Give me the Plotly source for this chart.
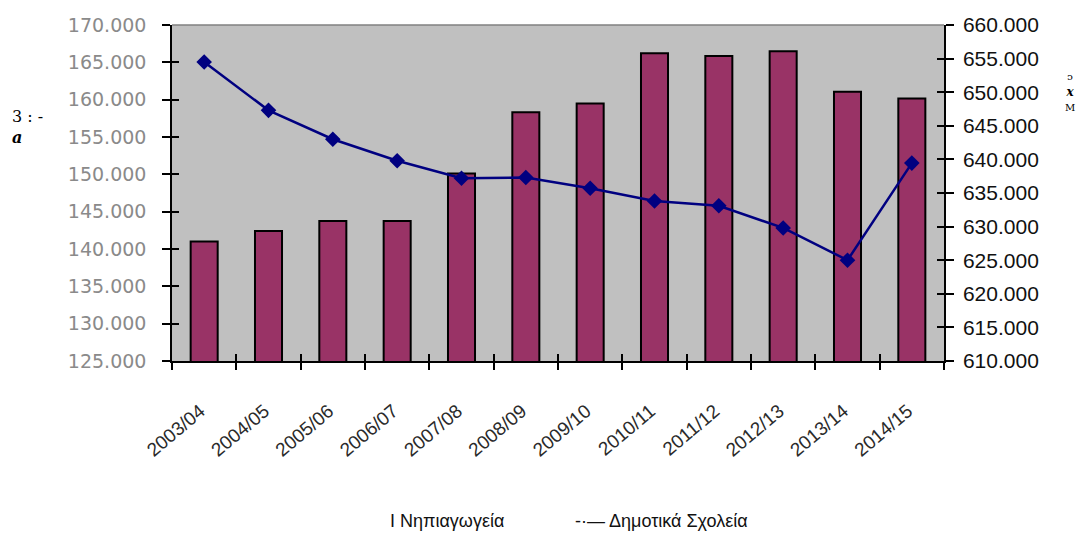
import plotly.graph_objects as go

# School years
years = ["2003/04", "2004/05", "2005/06", "2006/07", "2007/08", "2008/09",
         "2009/10", "2010/11", "2011/12", "2012/13", "2013/14", "2014/15"]

# Kindergarten pupils (left axis)
kindergarten = [141000, 142400, 143750, 143750, 150100, 158300,
                159500, 166200, 165850, 166500, 161050, 160150]

# Primary school pupils (right axis)
primary = [654500, 647300, 643000, 639800, 637200, 637300,
           635700, 633800, 633100, 629800, 625000, 639450]

left_ticks = list(range(125000, 170001, 5000))
right_ticks = list(range(610000, 660001, 5000))


def dotted(v):
    return f"{v:,}".replace(",", ".")


fig = go.Figure()

fig.add_trace(go.Bar(
    x=years, y=kindergarten, name="Νηπιαγωγεία",
    marker=dict(color="#993366", line=dict(color="#000000", width=2)),
    xaxis="x", yaxis="y", hoverinfo="skip",
))

fig.add_trace(go.Scatter(
    x=years, y=primary, name="Δημοτικά Σχολεία",
    mode="lines+markers",
    line=dict(color="#000080", width=2.5),
    marker=dict(symbol="diamond", size=12, color="#000080"),
    xaxis="x", yaxis="y2", hoverinfo="skip",
))

# invisible helpers so the overlay axes (inner half of the cross ticks) get drawn
fig.add_trace(go.Scatter(x=years, y=kindergarten, mode="markers",
                         marker=dict(opacity=0), xaxis="x2", yaxis="y3",
                         hoverinfo="skip", showlegend=False))
fig.add_trace(go.Scatter(x=years, y=primary, mode="markers",
                         marker=dict(opacity=0), xaxis="x2", yaxis="y4",
                         hoverinfo="skip", showlegend=False))

axis_font = "Liberation Sans, Arial, sans-serif"
cat_range = [-0.5, len(years) - 0.5]

fig.update_layout(
    width=1078, height=535,
    margin=dict(l=172, r=134, t=25, b=174),
    paper_bgcolor="#ffffff",
    plot_bgcolor="#c0c0c0",
    bargap=0.58,
    showlegend=False,
    hovermode=False,
    xaxis=dict(
        type="category", categoryorder="array", categoryarray=years,
        range=cat_range,
        showgrid=False, zeroline=False,
        showline=True, linecolor="#000000", linewidth=1.5,
        ticks="outside", tickson="boundaries", ticklen=7, tickwidth=1.5,
        tickcolor="#000000",
        tickangle=-40, ticklabelstandoff=30, ticklabelshift=-4,
        tickfont=dict(family=axis_font, size=19, color="#2a2a2a"),
    ),
    xaxis2=dict(
        type="category", categoryorder="array", categoryarray=years,
        range=cat_range,
        overlaying="x", showgrid=False, zeroline=False, showline=False,
        ticks="inside", tickson="boundaries", ticklen=7, tickwidth=1.5,
        tickcolor="#000000", showticklabels=False,
    ),
    yaxis=dict(
        range=[125000, 170000], tickvals=left_ticks,
        ticktext=[dotted(v) for v in left_ticks],
        showgrid=False, zeroline=False,
        showline=True, linecolor="#000000", linewidth=1.5,
        ticks="outside", ticklen=8, tickwidth=1.5, tickcolor="#000000",
        ticklabelstandoff=12,
        tickfont=dict(family="DejaVu Sans, sans-serif", size=19, color="#8a8a8a"),
    ),
    yaxis2=dict(
        range=[610000, 660000], tickvals=right_ticks,
        ticktext=[dotted(v) for v in right_ticks],
        overlaying="y", side="right",
        showgrid=False, zeroline=False,
        showline=True, linecolor="#000000", linewidth=1.5,
        ticks="outside", ticklen=8, tickwidth=1.5, tickcolor="#000000",
        ticklabelstandoff=5,
        tickfont=dict(family=axis_font, size=21, color="#111111"),
    ),
    yaxis3=dict(
        range=[125000, 170000], tickvals=left_ticks, overlaying="y",
        showgrid=False, zeroline=False, showline=False,
        ticks="inside", ticklen=7, tickwidth=1.5, tickcolor="#000000",
        showticklabels=False,
    ),
    yaxis4=dict(
        range=[610000, 660000], tickvals=right_ticks, overlaying="y",
        side="right", showgrid=False, zeroline=False, showline=False,
        ticks="inside", ticklen=7, tickwidth=1.5, tickcolor="#000000",
        showticklabels=False,
    ),
)

# top edge of the plotting area
fig.add_shape(type="line", xref="paper", yref="paper", x0=0, x1=1, y0=1, y1=1,
              line=dict(color="#808080", width=1.5), layer="above")

# axis title fragments
fig.add_annotation(xref="paper", yref="paper", x=-0.210, y=0.695,
                   xanchor="left", yanchor="middle", showarrow=False,
                   text="3 : -<br><b><i>a</i></b>", align="left",
                   font=dict(family="DejaVu Serif, serif", size=16, color="#000000"))
fig.add_annotation(xref="paper", yref="paper", x=1.163, y=0.80,
                   xanchor="center", yanchor="middle", showarrow=False,
                   text="<span style='font-size:10px'>ᴐ</span><br><b><i>x</i></b><br><span style='font-size:10px'>M</span>",
                   font=dict(family="DejaVu Serif, serif", size=12, color="#000000"))

# legend as text
legend_y = -0.476
fig.add_annotation(xref="paper", yref="paper", x=(388 - 172) / 772, y=legend_y,
                   xanchor="left", yanchor="middle", showarrow=False,
                   text="I Νηπιαγωγεία",
                   font=dict(family=axis_font, size=18, color="#111111"))
fig.add_annotation(xref="paper", yref="paper", x=(573 - 172) / 772, y=legend_y,
                   xanchor="left", yanchor="middle", showarrow=False,
                   text="-·— Δημοτικά Σχολεία",
                   font=dict(family=axis_font, size=18, color="#111111"))

fig.write_html("out.html")
